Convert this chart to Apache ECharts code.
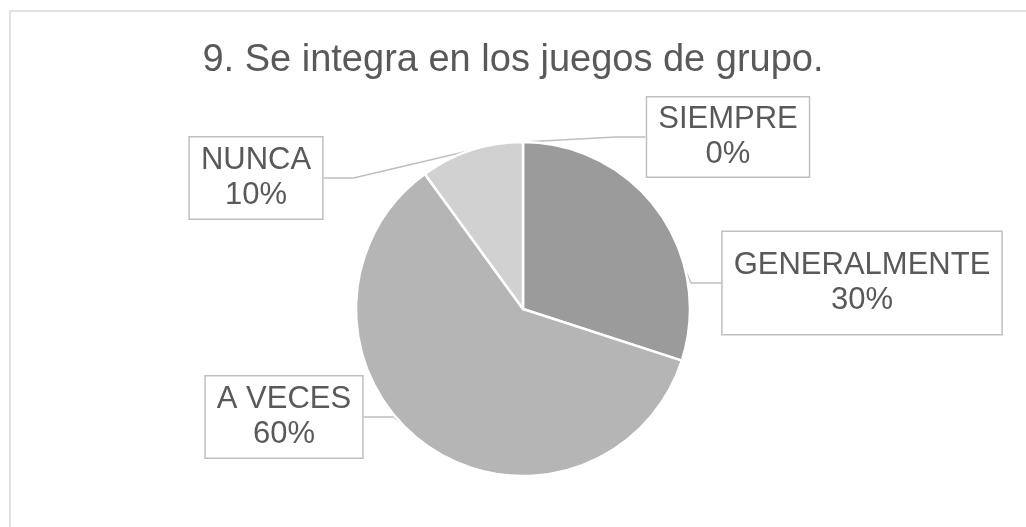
<!DOCTYPE html>
<html>
<head>
<meta charset="utf-8">
<script src="https://cdn.jsdelivr.net/npm/echarts@6/dist/echarts.min.js"></script>
<style>
  html, body { margin: 0; padding: 0; background: #fff; }
  #main { width: 1026px; height: 527px; }
</style>
</head>
<body>
<div id="main"></div>
<script>
var title = "9. Se integra en los juegos de grupo.";
var categories = ["SIEMPRE", "GENERALMENTE", "A VECES", "NUNCA"];
var values = [0, 30, 60, 10];
var colors = ["#7f7f7f", "#9b9b9b", "#b5b5b5", "#d1d1d1"];

// where each callout box sits (center x, y) and its padding
var boxPos = [[728, 137], [862, 283], [284, 417], [256, 178]];
var boxPad = [[2, 11, 7, 11], [4, 11, 28, 11], [3, 11, 8, 11], [3, 11, 8, 11]];

var chartDom = document.getElementById("main");
var myChart = echarts.init(chartDom);
var font = "'Liberation Sans', Arial, sans-serif";

var data = categories.map(function (name, i) {
  return {
    name: name,
    value: values[i],
    itemStyle: { color: colors[i] },
    label: { padding: boxPad[i] }
  };
});

var option = {
  animation: false,
  title: {
    text: title,
    left: "center",
    top: 37,
    textStyle: { fontSize: 38, fontWeight: "normal", color: "#595959", fontFamily: font }
  },
  graphic: [
    {
      type: "rect",
      shape: { x: 10, y: 11, width: 1030, height: 530 },
      style: { fill: "none", stroke: "#d9d9d9", lineWidth: 1.5 },
      silent: true
    }
  ],
  series: [
    {
      type: "pie",
      center: [523, 309],
      radius: 167,
      startAngle: 90,
      clockwise: true,
      data: data,
      itemStyle: { borderColor: "#fff", borderWidth: 2.5 },
      label: {
        show: true,
        formatter: "{b}\n{d}%",
        fontSize: 31,
        lineHeight: 35,
        color: "#595959",
        fontFamily: font,
        align: "center",
        backgroundColor: "#fff",
        borderColor: "#bfbfbf",
        borderWidth: 1.5
      },
      labelLine: {
        show: true,
        lineStyle: { color: "#bfbfbf", width: 1.5 }
      },
      labelLayout: function (params) {
        var p = boxPos[params.dataIndex];
        return { x: p[0], y: p[1], align: "center", verticalAlign: "middle" };
      }
    }
  ]
};

option && myChart.setOption(option);
</script>
</body>
</html>
